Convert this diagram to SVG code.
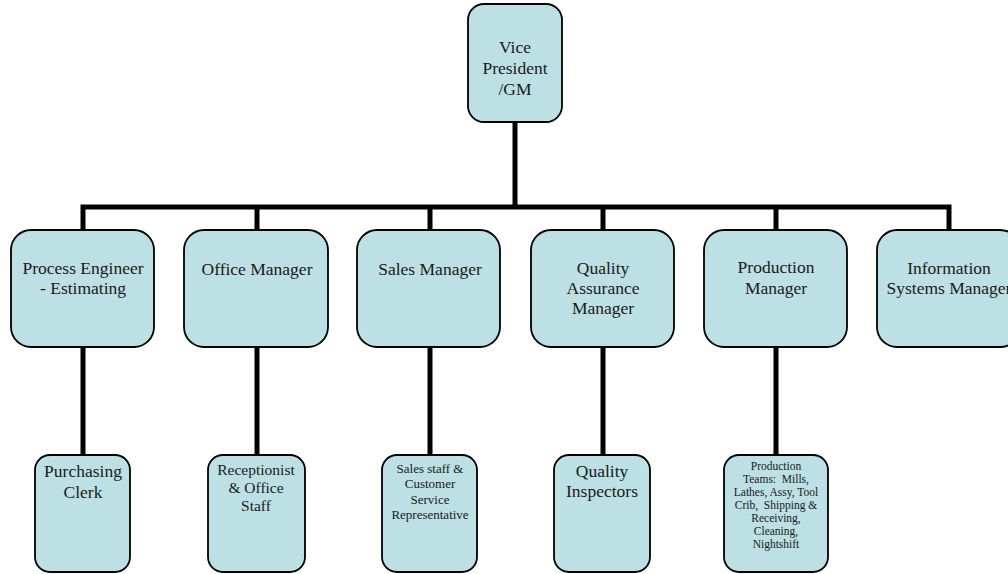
<svg xmlns="http://www.w3.org/2000/svg" width="1008" height="574" viewBox="0 0 1008 574">
  <style>
    .box { fill: #bce0e3; stroke: #000; stroke-width: 1.8; }
    .wire { stroke: #000; stroke-width: 5; fill: none; }
    text { font-family: "Liberation Serif", "Times New Roman", serif; fill: #1a1a1a; text-anchor: middle; white-space: pre; }
    .l1 { font-size: 17.5px; }
    .l3a { font-size: 17.5px; }
    .l3b { font-size: 15.5px; }
    .l3c { font-size: 13px; }
    .l3d { font-size: 11.5px; }
  </style>
  <rect width="1008" height="574" fill="#fff"/>

  <!-- reporting lines -->
  <g id="connectors">
    <path class="wire" d="M515 122 V207"/>
    <path class="wire" d="M83 232 V207 H949 V232"/>
    <path class="wire" d="M257 207 V232 M430 207 V232 M603 207 V232 M776 207 V232"/>
    <path class="wire" d="M83 347 V456 M257 347 V456 M430 347 V456 M603 347 V456 M776 347 V456"/>
  </g>

  <g id="vp">
    <rect class="box" x="468" y="4" width="94" height="118" rx="16"/>
    <text class="l1" x="515" y="53">Vice</text>
    <text class="l1" x="515" y="74">President</text>
    <text class="l1" x="515" y="95">/GM</text>
  </g>

  <!-- managers -->
  <g id="process-engineer">
    <rect class="box" x="11" y="230" width="143" height="117" rx="20"/>
    <text class="l1" x="83" y="274">Process Engineer</text>
    <text class="l1" x="83" y="294">- Estimating</text>
  </g>
  <g id="office-manager">
    <rect class="box" x="184" y="230" width="144" height="117" rx="20"/>
    <text class="l1" x="257" y="275">Office Manager</text>
  </g>
  <g id="sales-manager">
    <rect class="box" x="357" y="230" width="143" height="117" rx="20"/>
    <text class="l1" x="430" y="275">Sales Manager</text>
  </g>
  <g id="qa-manager">
    <rect class="box" x="531" y="230" width="143" height="117" rx="20"/>
    <text class="l1" x="603" y="274">Quality</text>
    <text class="l1" x="603" y="294">Assurance</text>
    <text class="l1" x="603" y="314">Manager</text>
  </g>
  <g id="production-manager">
    <rect class="box" x="704" y="230" width="143" height="117" rx="20"/>
    <text class="l1" x="776" y="273">Production</text>
    <text class="l1" x="776" y="294">Manager</text>
  </g>
  <g id="is-manager">
    <rect class="box" x="877" y="230" width="143" height="117" rx="20"/>
    <text class="l1" x="949" y="274">Information</text>
    <text class="l1" x="949" y="294">Systems Manager</text>
  </g>

  <!-- staff -->
  <g id="purchasing-clerk">
    <rect class="box" x="35" y="455" width="95" height="117" rx="15"/>
    <text class="l3a" x="83" y="477">Purchasing</text>
    <text class="l3a" x="83" y="498">Clerk</text>
  </g>
  <g id="receptionist">
    <rect class="box" x="208" y="455" width="97" height="117" rx="15"/>
    <text class="l3b" x="256" y="475">Receptionist</text>
    <text class="l3b" x="256" y="493">&amp; Office</text>
    <text class="l3b" x="256" y="511">Staff</text>
  </g>
  <g id="sales-staff">
    <rect class="box" x="382" y="455" width="95" height="117" rx="15"/>
    <text class="l3c" x="430" y="473">Sales staff &amp;</text>
    <text class="l3c" x="430" y="488">Customer</text>
    <text class="l3c" x="430" y="504">Service</text>
    <text class="l3c" x="430" y="519">Representative</text>
  </g>
  <g id="quality-inspectors">
    <rect class="box" x="554" y="455" width="96" height="117" rx="15"/>
    <text class="l3a" x="602" y="477">Quality</text>
    <text class="l3a" x="602" y="497">Inspectors</text>
  </g>
  <g id="production-teams">
    <rect class="box" x="724" y="455" width="104" height="117" rx="15"/>
    <text class="l3d" x="776" y="470">Production</text>
    <text class="l3d" x="776" y="483">Teams:  Mills,</text>
    <text class="l3d" x="776" y="496">Lathes, Assy, Tool</text>
    <text class="l3d" x="776" y="509">Crib,  Shipping &amp;</text>
    <text class="l3d" x="776" y="522">Receiving,</text>
    <text class="l3d" x="776" y="535">Cleaning,</text>
    <text class="l3d" x="776" y="548">Nightshift</text>
  </g>
</svg>
